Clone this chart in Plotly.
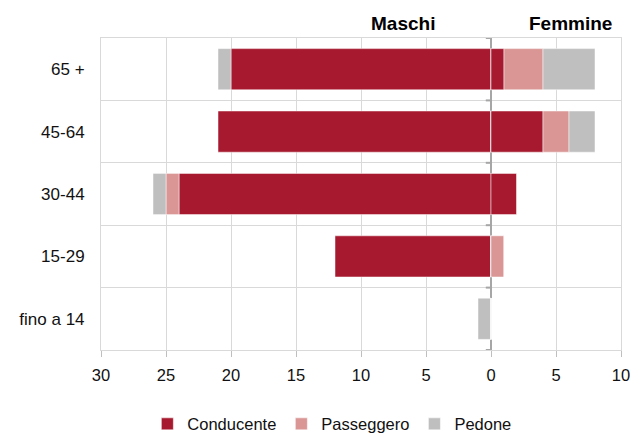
import plotly.graph_objects as go

categories = ["fino a 14", "15-29", "30-44", "45-64", "65 +"]
series = ["Conducente", "Passeggero", "Pedone"]
colors = ["#A6192E", "#D99694", "#BFBFBF"]

maschi = {
    "Conducente": [0, 12, 24, 21, 20],
    "Passeggero": [0, 0, 1, 0, 0],
    "Pedone": [1, 0, 1, 0, 1],
}
femmine = {
    "Conducente": [0, 0, 2, 4, 1],
    "Passeggero": [0, 1, 0, 2, 3],
    "Pedone": [0, 0, 0, 2, 4],
}
tick_vals = [-30, -25, -20, -15, -10, -5, 0, 5, 10]
tick_text = ["30", "25", "20", "15", "10", "5", "0", "5", "10"]

FONT = "Liberation Sans, Arial, sans-serif"

ypos = list(range(len(categories)))
fig = go.Figure()
for s, c in zip(series, colors):
    fig.add_trace(go.Bar(
        y=ypos, x=[-v for v in maschi[s]], orientation="h", name=s,
        marker=dict(color=c, line=dict(color="white", width=0.5)),
        legendgroup=s, showlegend=True, width=0.66))
for s, c in zip(series, colors):
    fig.add_trace(go.Bar(
        y=ypos, x=femmine[s], orientation="h", name=s,
        marker=dict(color=c, line=dict(color="white", width=0.5)),
        legendgroup=s, showlegend=False, width=0.66))

# small tick marks on the zero line at category boundaries
bounds = [-0.5, 0.5, 1.5, 2.5, 3.5, 4.5]
shapes = [dict(type="line", xref="x", yref="y", x0=-0.4, x1=0, y0=b, y1=b,
               line=dict(color="#A6A6A6", width=2)) for b in bounds]

fig.update_layout(
    barmode="relative",
    width=635, height=429,
    margin=dict(l=93, r=22, t=30, b=87),
    paper_bgcolor="white", plot_bgcolor="white",
    font=dict(family=FONT, size=16, color="#111"),
    showlegend=True,
    legend=dict(orientation="h", xref="container", x=0.51, xanchor="center",
                yref="container", y=0.03, yanchor="middle",
                font=dict(size=16.5), itemwidth=30, traceorder="normal"),
    xaxis=dict(range=[-30, 10], tickvals=tick_vals, ticktext=tick_text,
               showgrid=True, gridcolor="#D9D9D9", gridwidth=1,
               zeroline=True, zerolinecolor="#A6A6A6", zerolinewidth=2,
               showline=True, linecolor="#D9D9D9", mirror=True,
               ticks="outside", tickcolor="#BFBFBF", ticklen=6,
               ticklabelstandoff=4, tickfont=dict(size=16.5)),
    yaxis=dict(range=[-0.5, 4.5], tickvals=ypos, ticktext=categories,
               showgrid=False, zeroline=False,
               showline=True, linecolor="#D9D9D9", mirror=True,
               minor=dict(tickvals=[0.5, 1.5, 2.5, 3.5], showgrid=True,
                          gridcolor="#D9D9D9", gridwidth=1, ticks=""),
               ticks="", ticklabelstandoff=12, tickfont=dict(size=17)),
    shapes=shapes,
    annotations=[
        dict(text="<b>Maschi</b>", x=-6.8, y=1, xref="x", yref="paper",
             yanchor="bottom", yshift=2, showarrow=False,
             font=dict(family=FONT, size=19, color="black")),
        dict(text="<b>Femmine</b>", x=6.1, y=1, xref="x", yref="paper",
             yanchor="bottom", yshift=2, showarrow=False,
             font=dict(family=FONT, size=19, color="black")),
    ],
)
fig.write_html("out.html")
